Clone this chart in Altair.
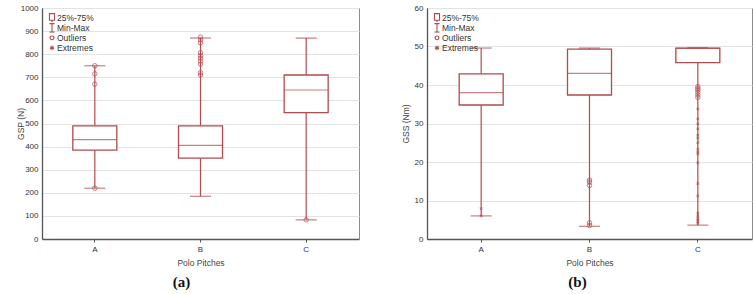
import altair as alt
import pandas as pd

RED = "#b34a4e"
cats = ["A", "B", "C"]

# ---- Panel (a): GSP (N)
a_q1 = [385, 350, 547]
a_med = [430, 405, 645]
a_q3 = [490, 490, 710]
a_min = [220, 185, 83]
a_max = [750, 870, 870]
a_out_A = [750, 715, 670, 220]
a_out_B = [874, 862, 849, 806, 794, 783, 770, 757, 720, 710]
a_out_C = [83]
a_ext_A = []
a_ext_B = []
a_ext_C = []

# ---- Panel (b): GSS (Nm)
b_q1 = [34.8, 37.4, 45.8]
b_med = [38.0, 43.0, 49.5]
b_q3 = [42.9, 49.3, 49.6]
b_min = [6.0, 3.3, 3.6]
b_max = [49.6, 49.6, 49.7]
b_out_A = []
b_out_B = [15.3, 14.8, 13.9, 4.2, 3.5]
b_out_C = [39.6, 39.1, 38.7, 38.1, 37.4, 36.8]
b_ext_A = [7.9, 6.0]
b_ext_B = []
b_ext_C = [33.8, 31.2, 29.9, 28.6, 27.0, 26.2, 25.0, 23.3, 22.6, 22.1,
           19.8, 14.4, 11.2, 6.7, 6.0, 5.4, 4.9, 4.5, 4.1]

legend_items = ["25%-75%", "Min-Max", "Outliers", "Extremes"]
legend_paths = [
    "M-0.6,-1H0.6V0.55H-0.6Z M0,0.55V1",
    "M-0.6,-1H0.6M0,-1V1M-0.6,1H0.6",
    "M0.45,0A0.45,0.45,0,1,1,-0.45,0A0.45,0.45,0,1,1,0.45,0",
    "M0,-0.55V0.55M-0.48,-0.28L0.48,0.28M-0.48,0.28L0.48,-0.28",
]
ASTER = "M0,-1V1M-0.87,-0.5L0.87,0.5M-0.87,0.5L0.87,-0.5"


def points_df(groups):
    rows = []
    for c, vals in zip(cats, groups):
        for v in vals:
            rows.append({"cat": c, "v": v})
    return pd.DataFrame(rows, columns=["cat", "v"])


def panel(q1, med, q3, mn, mx, outs, exts, width, height, ymax, ystep,
          ylabel, caption, cap_dx):
    box = pd.DataFrame({"cat": cats, "q1": q1, "med": med, "q3": q3,
                        "mn": mn, "mx": mx})
    xenc = alt.X("cat:N", scale=alt.Scale(domain=cats, paddingInner=0, paddingOuter=0),
                 axis=alt.Axis(title="Polo Pitches", labelAngle=0))
    yscale = alt.Scale(domain=[0, ymax], nice=False, zero=True)
    yaxis = alt.Axis(title=ylabel, values=list(range(0, ymax + 1, ystep)), format="d",
                     titleX=-22, titleBaseline="middle")

    def Y(f):
        return alt.Y(f, type="quantitative", scale=yscale, axis=yaxis)

    base = alt.Chart(box)
    lo = base.mark_rule(color=RED, strokeWidth=1.2).encode(x=xenc, y=Y("mn"), y2="q1")
    hi = base.mark_rule(color=RED, strokeWidth=1.2).encode(x=xenc, y=Y("q3"), y2="mx")
    rect = base.mark_bar(fill="white", stroke=RED, strokeWidth=1.3, size=44).encode(
        x=xenc, y=Y("q1"), y2="q3")
    medt = base.mark_tick(color=RED, size=44, thickness=1.2).encode(x=xenc, y=Y("med"))
    capl = base.mark_tick(color=RED, size=21, thickness=1.2).encode(x=xenc, y=Y("mn"))
    caph = base.mark_tick(color=RED, size=21, thickness=1.2).encode(x=xenc, y=Y("mx"))
    op = alt.Chart(points_df(outs)).mark_point(
        shape="circle", filled=False, color=RED, size=20, strokeWidth=1).encode(
        x=xenc, y=Y("v"))
    ep = alt.Chart(points_df(exts)).mark_point(
        shape=ASTER, filled=False, color=RED, size=10, strokeWidth=1).encode(
        x=xenc, y=Y("v"))
    leg = alt.Chart(pd.DataFrame({"item": legend_items})).mark_point(
        opacity=0, color=RED, filled=False).encode(
        shape=alt.Shape("item:N", scale=alt.Scale(domain=legend_items, range=legend_paths),
                        legend=alt.Legend(orient="top-left", title=None, offset=5, padding=0,
                                          rowPadding=0, clipHeight=9.7, symbolSize=72,
                                          symbolStrokeWidth=1.1,
                                          symbolStrokeColor=RED, symbolFillColor="transparent",
                                          symbolOpacity=1, labelFont="Liberation Sans",
                                          labelFontSize=8.5, labelColor="#333",
                                          labelOffset=0)))
    cap = alt.Chart(pd.DataFrame({"t": [caption]})).mark_text(
        font="Liberation Serif", fontSize=15, fontWeight="bold", color="#111").encode(
        x=alt.value(width / 2 + cap_dx), y=alt.value(height + 43), text="t:N")
    return alt.layer(lo, hi, rect, medt, capl, caph, op, ep, leg, cap).properties(
        width=width, height=height)


pa = panel(a_q1, a_med, a_q3, a_min, a_max, [a_out_A, a_out_B, a_out_C],
           [a_ext_A, a_ext_B, a_ext_C], 317, 231, 1000, 100, "GSP (N)", "(a)", -19)
pb = panel(b_q1, b_med, b_q3, b_min, b_max, [b_out_A, b_out_B, b_out_C],
           [b_ext_A, b_ext_B, b_ext_C], 325, 231, 60, 10, "GSS (Nm)", "(b)", -12)

chart = alt.hconcat(pa, pb, spacing=40).resolve_scale(shape="independent").resolve_legend(
    shape="independent").properties(
    padding={"left": 15, "top": 3, "right": 0, "bottom": 0},
    background="white",
).configure_view(stroke="#8c8c8c", strokeWidth=1).configure_axis(
    labelFont="Liberation Sans", labelFontSize=8, labelColor="#333",
    titleFont="Liberation Sans", titleFontSize=8.5, titleFontWeight="normal",
    titleColor="#444", domainColor="#555", domainWidth=1.3, tickColor="#555",
    gridColor="#e3e3e3",
).configure_axisX(grid=False, tickSize=3, labelPadding=3, titlePadding=5).configure_axisY(
    tickSize=0, labelPadding=4)

chart.save("out.html", embed_options={"renderer": "svg", "actions": False})
